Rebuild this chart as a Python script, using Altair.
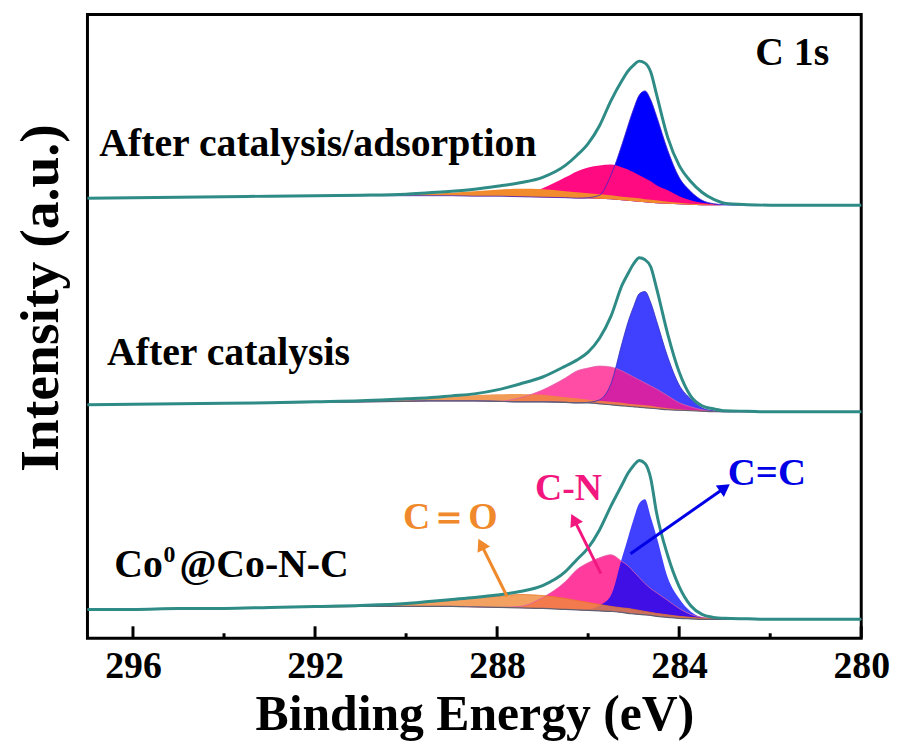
import math
import altair as alt
import pandas as pd

# ---------------- data ----------------
E = [297, 296, 295, 294, 293, 292, 291, 290, 289.5, 289, 288.5, 288, 287.5, 287,
     286.5, 286.25, 286, 285.75, 285.5, 285.25, 285.125, 285, 284.875, 284.75,
     284.625, 284.5, 284.25, 284, 283.75, 283.5, 283.25, 283, 282.5, 282, 281, 280]

# vertical offsets of the three stacked spectra (a.u.)
OFF_TOP, OFF_MID, OFF_BOT = 436, 228, 19

# ---- bottom: Co0@Co-N-C ----
B_env = [10, 10, 11, 11, 12, 13, 14, 16, 18, 20, 22, 24.5, 28, 34, 48, 60, 72, 90, 114, 136,
         147, 155, 160, 157, 142, 108, 64, 33, 14, 5, 2, 1, 0.5, 0, 0, 0]
B_bg = [10, 10, 11, 11, 12, 12.5, 13, 13, 13, 13, 12.5, 12, 11.5, 11, 10, 9.5, 9, 8.5, 8, 7,
        6, 5.5, 5, 4.5, 4, 3, 2, 1, 0.5, 0, 0, 0, 0, 0, 0, 0]
B_co = [10, 10, 11, 11, 12, 12.5, 13, 15, 17, 19, 22, 23, 25, 24, 21, 19, 17, 15, 13, 11.5,
        11, 10, 9, 8, 7, 6, 4.5, 3, 2, 1, 0.5, 0, 0, 0, 0, 0]
B_cn = [10, 10, 11, 11, 12, 12.5, 13, 13, 13, 13, 12.5, 12, 13, 22, 38, 50, 57, 62, 65, 58,
        54, 48, 42, 36, 31, 27, 19, 11, 5, 2, 1, 0, 0, 0, 0, 0]
B_cc = [10, 10, 11, 11, 12, 12.5, 13, 13, 13, 13, 12.5, 12, 11.5, 11, 10, 9.5, 10, 14, 24, 63,
        82, 101, 117, 121, 103, 84, 42, 21, 8, 2, 0.5, 0, 0, 0, 0, 0]

# ---- middle: After catalysis ----
M_env = [7, 7.5, 8, 8.5, 9, 10, 11, 13, 14, 16, 18, 22, 28, 35, 46, 52, 60, 74, 96, 128,
         139, 149, 155, 153, 146, 125, 78, 40, 16, 6, 3, 1, 0.5, 0, 0, 0]
M_bg = [7, 7.5, 8, 8.5, 9, 9.5, 10, 10.5, 11, 11, 11, 10.5, 10, 10, 9.5, 9, 9, 8, 7, 6,
        5.5, 5, 4.5, 4, 3.5, 3, 2, 1.5, 1, 0.5, 0, 0, 0, 0, 0, 0]
M_co = [7, 7.5, 8, 8.5, 9, 9.5, 10.5, 12, 13.5, 15, 16.5, 17.5, 18, 17, 14.5, 13.5, 12, 11, 10, 9,
        8, 7.5, 7, 6.5, 6, 5, 3.5, 2.5, 1.5, 1, 0.3, 0, 0, 0, 0, 0]
M_cn = [7, 7.5, 8, 8.5, 9, 9.5, 10, 10.5, 11, 11, 11, 10.5, 14, 22, 34, 41, 44, 46, 45, 41,
        38, 35, 32, 29, 26, 23, 16, 9, 5, 2, 0.5, 0, 0, 0, 0, 0]
M_cc = [7, 7.5, 8, 8.5, 9, 9.5, 10, 10.5, 11, 11, 11, 10.5, 10, 10, 9.5, 9, 9.5, 12, 28, 70,
        90, 106, 119, 121, 110, 92, 55, 27, 13, 4, 1, 0, 0, 0, 0, 0]

# ---- top: After catalysis/adsorption ----
T_env = [7, 7.5, 8, 8.5, 9, 9.5, 10, 11, 12.5, 14, 16, 19, 22.5, 28, 40, 50, 62, 80, 105, 126,
         135, 141, 145, 143, 134, 112, 68, 40, 24, 13, 6, 2, 0.5, 0, 0, 0]
T_bg = [7, 7.5, 8, 8.5, 9, 9, 9.5, 9.5, 9.5, 9.5, 9, 9, 8.5, 8, 7.5, 7, 7, 6.5, 6, 5,
        4.5, 4, 3.5, 3, 2.5, 2, 1.5, 1, 0.5, 0, 0, 0, 0, 0, 0, 0]
T_co = [7, 7.5, 8, 8.5, 9, 9, 9.5, 10.5, 11.5, 12.5, 14, 15.5, 16.5, 16, 14, 13, 12, 11, 10, 8.5,
        8, 7.5, 7, 6, 5.5, 5, 3.5, 2.5, 1.5, 1, 0.3, 0, 0, 0, 0, 0]
T_cn = [7, 7.5, 8, 8.5, 9, 9, 9.5, 9.5, 9.5, 9.5, 9, 9, 10, 17, 28, 34, 38, 40, 41, 38,
        36, 33, 30, 27, 24, 20, 15, 9, 5, 2.5, 1, 0, 0, 0, 0, 0]
T_cc = [7, 7.5, 8, 8.5, 9, 9, 9.5, 9.5, 9.5, 9.5, 9, 9, 8.5, 8, 7.5, 7, 7.5, 10, 30, 62,
        80, 97, 111, 115, 106, 90, 55, 28, 14, 5, 1.5, 0.5, 0, 0, 0, 0]

TICKS_MAJOR = [296, 292, 288, 284, 280]
TICKS_MINOR = [294, 290, 286, 282]

# text annotations (E, intensity, text, colour, font size)
LBL_E = [296.74, 296.57, 296.41, 295.33, 294.98, 282.33, 290.07, 287.17, 282.93]
LBL_V = [485, 275, 62, 77, 62, 577, 110, 139, 154]
LBL_T = ["After catalysis/adsorption", "After catalysis", "Co", "0", "@Co-N-C", "C 1s",
         "C\uff1dO", "C-N", "C=C"]
LBL_C = ["black", "black", "black", "black", "black", "black", "#F0892B", "#F2177F", "#0000E6"]
LBL_S = [40, 40, 40, 24, 40, 40, 38, 38, 39]

# arrows (tail -> head)
ARR_E1 = [287.78, 285.72, 285.07]
ARR_V1 = [42, 65, 85]
ARR_E2 = [288.41, 286.37, 282.89]
ARR_V2 = [100, 125, 155]
ARR_C = ["#F0892B", "#F2177F", "#0000E6"]

# ---------------- chart ----------------
W, H = 779, 628
FONT = "Liberation Serif"
TEAL = "#2E8B86"

x_axis = alt.Axis(values=TICKS_MAJOR, format="d", labelFont=FONT, labelFontSize=38,
                  labelFontWeight="bold", labelColor="black", labelBaseline="alphabetic",
                  labelPadding=40, labelFlush=False, ticks=False, tickSize=0, domain=False,
                  grid=False, title="Binding Energy (eV)", titleFont=FONT, titleFontSize=50,
                  titleFontWeight="bold", titleColor="black", titleBaseline="alphabetic",
                  titleY=92)
y_axis = alt.Axis(labels=False, ticks=False, domain=False, grid=False,
                  title="Intensity (a.u.)", titleFont=FONT, titleFontSize=56,
                  titleFontWeight="bold", titleColor="black", titleBaseline="alphabetic",
                  titleAngle=270, titleAlign="center", titleX=-30, titleY=285)
x_scale = alt.Scale(domain=[280, 297], reverse=True, nice=False, zero=False)
y_scale = alt.Scale(domain=[0, H], nice=False, zero=False)

X = alt.X("E:Q", scale=x_scale, axis=x_axis)


def Y(field):
    return alt.Y(f"{field}:Q", scale=y_scale, axis=y_axis)


def comp_df(off, comp, bg):
    return pd.DataFrame({"E": E, "y": [off + v for v in comp], "y0": [off + v for v in bg]})


def area(off, comp, bg, color, opacity):
    return alt.Chart(comp_df(off, comp, bg)).mark_area(
        interpolate="monotone", color=color, opacity=opacity).encode(x=X, y=Y("y"), y2="y0")


def outline(off, comp, color, width=0.8):
    df = pd.DataFrame({"E": E, "y": [off + v for v in comp]})
    return alt.Chart(df).mark_line(interpolate="monotone", color=color,
                                   strokeWidth=width).encode(x=X, y=Y("y"))


def envelope(off, env):
    df = pd.DataFrame({"E": E, "y": [off + v for v in env]})
    return alt.Chart(df).mark_line(interpolate="monotone", color=TEAL,
                                   strokeWidth=3).encode(x=X, y=Y("y"))


layers = []
# top spectrum: opaque fills, pink over blue, orange on top
layers += [area(OFF_TOP, T_cc, T_bg, "#0000FF", 1), area(OFF_TOP, T_cn, T_bg, "#FF0A80", 1),
           area(OFF_TOP, T_co, T_bg, "#F28A2E", 1),
           outline(OFF_TOP, T_cc, "#3A1FC8"), envelope(OFF_TOP, T_env)]
# middle spectrum: pink translucent over blue
layers += [area(OFF_MID, M_cc, M_bg, "#2B2BFF", 0.9), area(OFF_MID, M_cn, M_bg, "#FF1A8C", 0.78),
           area(OFF_MID, M_co, M_bg, "#F08A3A", 0.85),
           outline(OFF_MID, M_cn, "#E060A8"), outline(OFF_MID, M_cc, "#3030C0"),
           outline(OFF_MID, M_bg, "#606070", 1.2), envelope(OFF_MID, M_env)]
# bottom spectrum: blue translucent over pink
layers += [area(OFF_BOT, B_cn, B_bg, "#FF1A8C", 0.85), area(OFF_BOT, B_cc, B_bg, "#0000FF", 0.75),
           area(OFF_BOT, B_co, B_bg, "#F08A3A", 0.8),
           outline(OFF_BOT, B_cn, "#E060A8"), outline(OFF_BOT, B_co, "#E8782A"),
           outline(OFF_BOT, B_bg, "#606070", 1.2), envelope(OFF_BOT, B_env)]

# inward ticks on the bottom frame
layers.append(alt.Chart(pd.DataFrame({"E": TICKS_MAJOR})).mark_rule(
    color="black", strokeWidth=3).encode(x=X, y=alt.value(H), y2=alt.value(H - 12)))
layers.append(alt.Chart(pd.DataFrame({"E": TICKS_MINOR})).mark_rule(
    color="black", strokeWidth=3).encode(x=X, y=alt.value(H), y2=alt.value(H - 5)))

# arrows
ppe = W / 17.0  # pixels per eV
ang, hE, hV = [], [], []
for e1, v1, e2, v2 in zip(ARR_E1, ARR_V1, ARR_E2, ARR_V2):
    dx = -(e2 - e1) * ppe
    dy = (v2 - v1)
    L = math.hypot(dx, dy)
    ux, uy = dx / L, dy / L
    ang.append((math.degrees(math.atan2(dx, dy)) + 360) % 360)
    hE.append(e2 + 6 * ux / ppe)
    hV.append(v2 - 6 * uy)
arr_df = pd.DataFrame({"E": ARR_E1, "v": ARR_V1, "E2": hE, "v2": hV, "c": ARR_C,
                       "ang": ang})
layers.append(alt.Chart(arr_df).mark_rule(strokeWidth=3).encode(
    x=X, y=Y("v"), x2="E2", y2="v2", color=alt.Color("c:N", scale=None)))
layers.append(alt.Chart(arr_df).mark_point(shape="triangle-up", filled=True, size=200,
                                           opacity=1).encode(
    x=alt.X("E2:Q", scale=x_scale, axis=x_axis), y=Y("v2"),
    color=alt.Color("c:N", scale=None), angle=alt.Angle("ang:Q", scale=None)))

# text labels
lbl_df = pd.DataFrame({"E": LBL_E, "v": LBL_V, "t": LBL_T, "c": LBL_C, "s": LBL_S})
layers.append(alt.Chart(lbl_df).mark_text(align="left", baseline="alphabetic", font=FONT,
                                          fontWeight="bold").encode(
    x=X, y=Y("v"), text="t:N", color=alt.Color("c:N", scale=None),
    size=alt.Size("s:Q", scale=None)))

chart = alt.layer(*layers).properties(
    width=W, height=H,
    padding={"left": 80, "top": 4, "right": 34, "bottom": 103},
    autosize=alt.AutoSizeParams(type="none"),
).configure(background="white").configure_view(stroke="black", strokeWidth=3)

chart.save("out.html", embed_options={"renderer": "svg", "actions": False})
